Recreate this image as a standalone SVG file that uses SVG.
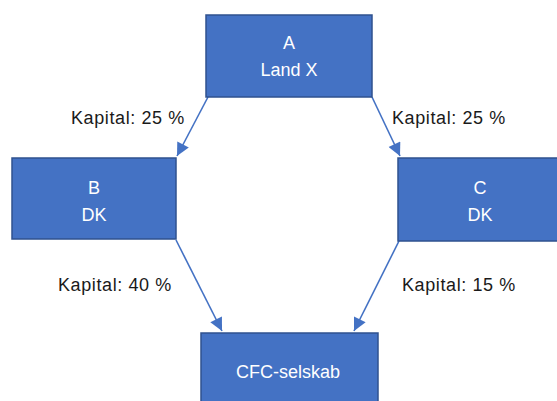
<svg xmlns="http://www.w3.org/2000/svg" width="557" height="401" viewBox="0 0 557 401">
  <style>
    .box { fill: #4472C4; stroke: #2F528F; stroke-width: 1.5; }
    .nt { font-family: "Liberation Sans", Arial, sans-serif; font-size: 18px; fill: #FFFFFF; text-anchor: middle; }
    .lbl { font-family: "Liberation Sans", Arial, sans-serif; font-size: 18px; fill: #1a1a1a; letter-spacing: 0.6px; }
    .conn { stroke: #4472C4; stroke-width: 1.6; fill: none; marker-end: url(#arr); }
  </style>
  <defs>
    <marker id="arr" viewBox="0 0 10 10" refX="10" refY="5" markerUnits="userSpaceOnUse" markerWidth="15" markerHeight="13" orient="auto">
      <path d="M0,0 L10,5 L0,10 z" fill="#4472C4"/>
    </marker>
  </defs>
  <rect width="557" height="401" fill="#FFFFFF"/>
  <g id="connectors">
    <line class="conn" x1="208" y1="97" x2="177" y2="156"/>
    <line class="conn" x1="372" y1="97" x2="400" y2="156"/>
    <line class="conn" x1="176" y1="240" x2="222" y2="331"/>
    <line class="conn" x1="399" y1="241" x2="354" y2="331"/>
  </g>
  <g id="node-A">
    <rect class="box" x="206" y="15" width="166" height="82"/>
    <text class="nt" x="289" y="49">A</text>
    <text class="nt" x="289" y="76">Land X</text>
  </g>
  <g id="node-B">
    <rect class="box" x="12" y="158" width="164" height="81"/>
    <text class="nt" x="94" y="194">B</text>
    <text class="nt" x="94" y="221">DK</text>
  </g>
  <g id="node-C">
    <rect class="box" x="398" y="158" width="170" height="83"/>
    <text class="nt" x="480" y="194">C</text>
    <text class="nt" x="480" y="221">DK</text>
  </g>
  <g id="node-CFC">
    <rect class="box" x="201" y="333" width="177" height="80"/>
    <text class="nt" x="288" y="378">CFC-selskab</text>
  </g>
  <g id="labels">
    <text class="lbl" x="71" y="124">Kapital: 25 %</text>
    <text class="lbl" x="392" y="124">Kapital: 25 %</text>
    <text class="lbl" x="58" y="291">Kapital: 40 %</text>
    <text class="lbl" x="402" y="291">Kapital: 15 %</text>
  </g>
</svg>
